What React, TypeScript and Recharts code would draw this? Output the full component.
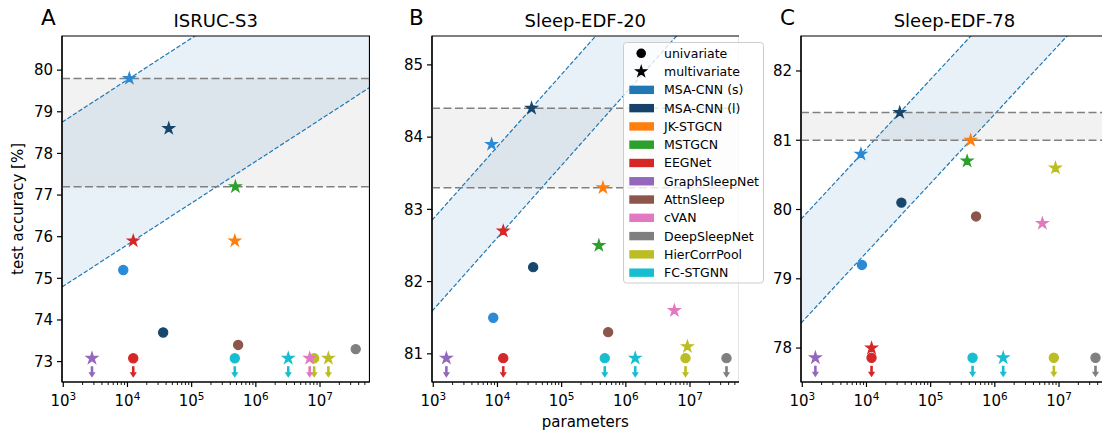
import React from 'react';
import { ComposedChart, Scatter, Area, XAxis, YAxis, ReferenceArea, ReferenceLine } from 'recharts';

const FONT = '"DejaVu Sans", Verdana, sans-serif';

const modelNames = ['MSA-CNN (s)', 'MSA-CNN (l)', 'JK-STGCN', 'MSTGCN', 'EEGNet', 'GraphSleepNet', 'AttnSleep', 'cVAN', 'DeepSleepNet', 'HierCorrPool', 'FC-STGNN'];
const markerColors = ['#2a8ad6', '#17466c', '#ff7f0e', '#2ca02c', '#d62728', '#9467bd', '#8c564b', '#e377c2', '#7f7f7f', '#bcbd22', '#17becf'];
const legendColors = ['#1f77b4', '#154268', '#ff7f0e', '#2ca02c', '#d62728', '#9467bd', '#8c564b', '#e377c2', '#7f7f7f', '#bcbd22', '#17becf'];

// [model, input type, parameters, test accuracy, below axis (arrow)]
type Row = [string, 'uni' | 'multi', number, number, boolean?];

const isrucRows: Row[] = [
  ['MSA-CNN (s)', 'multi', 1.07e4, 79.8],
  ['MSA-CNN (l)', 'multi', 4.4e4, 78.6],
  ['MSTGCN', 'multi', 4.8e5, 77.2],
  ['JK-STGCN', 'multi', 4.7e5, 75.9],
  ['EEGNet', 'multi', 1.23e4, 75.9],
  ['MSA-CNN (s)', 'uni', 8.6e3, 75.2],
  ['MSA-CNN (l)', 'uni', 3.6e4, 73.7],
  ['AttnSleep', 'uni', 5.3e5, 73.4],
  ['DeepSleepNet', 'uni', 3.6e7, 73.3],
  ['GraphSleepNet', 'multi', 2.8e3, 73.08, true],
  ['EEGNet', 'uni', 1.23e4, 73.08, true],
  ['FC-STGNN', 'uni', 4.7e5, 73.08, true],
  ['FC-STGNN', 'multi', 3.2e6, 73.08, true],
  ['HierCorrPool', 'uni', 8.1e6, 73.08, true],
  ['cVAN', 'multi', 6.9e6, 73.08, true],
  ['HierCorrPool', 'multi', 1.35e7, 73.08, true],
];

const edf20Rows: Row[] = [
  ['MSA-CNN (s)', 'multi', 8.1e3, 83.9],
  ['MSA-CNN (l)', 'multi', 3.4e4, 84.4],
  ['JK-STGCN', 'multi', 4.4e5, 83.3],
  ['EEGNet', 'multi', 1.23e4, 82.7],
  ['MSTGCN', 'multi', 3.8e5, 82.5],
  ['MSA-CNN (l)', 'uni', 3.6e4, 82.2],
  ['cVAN', 'multi', 5.7e6, 81.6],
  ['MSA-CNN (s)', 'uni', 8.6e3, 81.5],
  ['AttnSleep', 'uni', 5.3e5, 81.3],
  ['HierCorrPool', 'multi', 9.1e6, 81.1],
  ['GraphSleepNet', 'multi', 1.6e3, 80.94, true],
  ['EEGNet', 'uni', 1.23e4, 80.94, true],
  ['FC-STGNN', 'uni', 4.7e5, 80.94, true],
  ['FC-STGNN', 'multi', 1.4e6, 80.94, true],
  ['HierCorrPool', 'uni', 8.5e6, 80.94, true],
  ['DeepSleepNet', 'uni', 3.7e7, 80.94, true],
];

const edf78Rows: Row[] = [
  ['MSA-CNN (l)', 'multi', 3.3e4, 81.4],
  ['JK-STGCN', 'multi', 4.2e5, 81.0],
  ['MSA-CNN (s)', 'multi', 8.2e3, 80.8],
  ['MSTGCN', 'multi', 3.7e5, 80.7],
  ['HierCorrPool', 'multi', 8.8e6, 80.6],
  ['MSA-CNN (l)', 'uni', 3.5e4, 80.1],
  ['AttnSleep', 'uni', 5.1e5, 79.9],
  ['cVAN', 'multi', 5.5e6, 79.8],
  ['MSA-CNN (s)', 'uni', 8.5e3, 79.2],
  ['EEGNet', 'multi', 1.2e4, 78.0],
  ['GraphSleepNet', 'multi', 1.6e3, 77.86, true],
  ['EEGNet', 'uni', 1.2e4, 77.86, true],
  ['FC-STGNN', 'uni', 4.5e5, 77.86, true],
  ['FC-STGNN', 'multi', 1.35e6, 77.86, true],
  ['HierCorrPool', 'uni', 8.3e6, 77.86, true],
  ['DeepSleepNet', 'uni', 3.7e7, 77.86, true],
];

const panelRows = [isrucRows, edf20Rows, edf78Rows];
const panelTitles = ['ISRUC-S3', 'Sleep-EDF-20', 'Sleep-EDF-78'];
const panelLetters = ['A', 'B', 'C'];
const yDomains = [[72.51, 80.82], [80.61, 85.4], [77.51, 82.505]];
const yTicks = [[73, 74, 75, 76, 77, 78, 79, 80], [81, 82, 83, 84, 85], [78, 79, 80, 81, 82]];
const xDomain = [955, 5.9e7];
const xMajor = [1e3, 1e4, 1e5, 1e6, 1e7];
// band edges: accuracy = offset + log10(parameters)
const bandLow = [71.81, 78.61, 75.38];
const bandHigh = [75.77, 79.87, 76.88];
const refLow = [77.2, 83.3, 81.0];
const refHigh = [79.8, 84.4, 81.4];

const xTicks: number[] = [];
xMajor.concat([1e8]).forEach((m) => {
  for (let k = 1; k < 10; k++) {
    const v = (m / 10) * k;
    if (v >= xDomain[0] && v <= xDomain[1]) xTicks.push(v);
  }
});

const chartLefts = [0, 369.7, 738.7];

function starPoints(cx: number, cy: number, R: number) {
  const r = R * 0.382;
  const pts: string[] = [];
  for (let i = 0; i < 10; i++) {
    const a = -Math.PI / 2 + (i * Math.PI) / 5;
    const rad = i % 2 ? r : R;
    pts.push(`${cx + rad * Math.cos(a)},${cy + rad * Math.sin(a)}`);
  }
  return pts.join(' ');
}

function LogTick(props: any) {
  const { x, y, payload } = props;
  const v = payload.value;
  const exp = Math.round(Math.log10(v));
  const major = Math.abs(Math.log10(v) - exp) < 1e-6;
  return (
    <g>
      <line x1={x} x2={x} y1={y} y2={y + (major ? 5 : 3)} stroke="#000" strokeWidth={major ? 1.2 : 0.9} />
      {major && (
        <text x={x} y={y + 24} textAnchor="middle" fontSize={15} fontFamily={FONT} fill="#000">
          10
          <tspan dy={-6} fontSize={10.5}>{exp}</tspan>
        </text>
      )}
    </g>
  );
}

function Marker(props: any) {
  const { cx, cy, payload } = props;
  if (cx == null || cy == null) return null;
  const color = markerColors[modelNames.indexOf(payload.model)];
  return (
    <g>
      {payload.below && (
        <g>
          <line x1={cx} x2={cx} y1={cy + 8} y2={cy + 15} stroke={color} strokeWidth={2.6} />
          <polygon points={`${cx - 3.6},${cy + 14} ${cx + 3.6},${cy + 14} ${cx},${cy + 19.5}`} fill={color} />
        </g>
      )}
      {payload.kind === 'uni' ? (
        <circle cx={cx} cy={cy} r={4.6} fill={color} stroke={color} strokeWidth={1.2} />
      ) : (
        <polygon points={starPoints(cx, cy, 5.8)} fill={color} stroke={color} strokeWidth={1.3} strokeLinejoin="miter" />
      )}
    </g>
  );
}

function Panel({ idx }: { idx: number }) {
  const [y0, y1] = yDomains[idx];
  const bandData = xDomain.map((x) => ({
    x,
    band: [bandLow[idx] + Math.log10(x), bandHigh[idx] + Math.log10(x)],
  }));
  const pts = panelRows[idx].map(([model, kind, params, acc, below]) => ({
    x: params,
    y: acc,
    model,
    kind,
    below: !!below,
  }));
  return (
    <div style={{ position: 'absolute', left: chartLefts[idx], top: 0 }}>
      <ComposedChart width={369.5} height={432} data={bandData} margin={{ top: 36, right: 0, bottom: 0, left: 0 }}>
        <XAxis
          dataKey="x"
          type="number"
          scale="log"
          domain={xDomain}
          allowDataOverflow
          ticks={xTicks}
          interval={0}
          tick={(p: any) => <LogTick {...p} />}
          tickLine={false}
          tickSize={0}
          tickMargin={0}
          height={50}
          axisLine={{ stroke: '#000', strokeWidth: 1.2 }}
        />
        <YAxis
          dataKey="y"
          type="number"
          domain={[y0, y1]}
          allowDataOverflow
          ticks={yTicks[idx]}
          interval={0}
          width={62}
          tickSize={5}
          tickMargin={4}
          tick={{ fill: '#000', fontSize: 15, fontFamily: FONT }}
          tickLine={{ stroke: '#000', strokeWidth: 1.2 }}
          axisLine={{ stroke: '#000', strokeWidth: 1.2 }}
        />
        <ReferenceArea y1={refLow[idx]} y2={refHigh[idx]} fill="#808080" fillOpacity={0.1} stroke="none" />
        <Area
          dataKey="band"
          type="linear"
          fill="#1f77b4"
          fillOpacity={0.1}
          stroke="#1f77b4"
          strokeWidth={1.2}
          strokeDasharray="4.5 2"
          dot={false}
          activeDot={false}
          isAnimationActive={false}
        />
        <ReferenceLine y={refLow[idx]} stroke="#808080" strokeWidth={1.5} strokeDasharray="8 3.5" />
        <ReferenceLine y={refHigh[idx]} stroke="#808080" strokeWidth={1.5} strokeDasharray="8 3.5" />
        <Scatter data={pts} shape={(p: any) => <Marker {...p} />} isAnimationActive={false} />
        <ReferenceArea
          x1={xDomain[0]}
          x2={xDomain[1]}
          y1={y0}
          y2={y1}
          fill="none"
          stroke="#000"
          strokeWidth={1.2}
          ifOverflow="visible"
        />
      </ComposedChart>
    </div>
  );
}

const legendItems = [
  { label: 'univariate', glyph: 'circle' },
  { label: 'multivariate', glyph: 'star' },
  ...modelNames.map((m, i) => ({ label: m, glyph: 'patch', color: legendColors[i] })),
];

function LegendBox() {
  return (
    <svg width={142} height={243} style={{ position: 'absolute', left: 623, top: 42 }}>
      <rect x={0.5} y={0.5} width={140} height={240.5} rx={3} fill="#fff" fillOpacity={0.8} stroke="#cccccc" />
      {legendItems.map((it, i) => {
        const cy = 11.3 + i * 18.28;
        return (
          <g key={it.label}>
            {it.glyph === 'circle' && <circle cx={18.2} cy={cy} r={4.8} fill="#000" />}
            {it.glyph === 'star' && (
              <polygon points={starPoints(18.2, cy, 5.6)} fill="#000" stroke="#000" strokeWidth={1.2} />
            )}
            {it.glyph === 'patch' && <rect x={6.3} y={cy - 4.2} width={24.7} height={8.4} fill={(it as any).color} />}
            <text x={41} y={cy + 4.5} fontSize={12.5} fontFamily={FONT} fill="#000">
              {it.label}
            </text>
          </g>
        );
      })}
    </svg>
  );
}

const letterX = [41, 409, 780];
const titleX = [215.7, 585.3, 954.4];

export default function App() {
  return (
    <div style={{ position: 'relative', width: 1102, height: 432, overflow: 'hidden', background: '#fff' }}>
      <style>{'body{margin:0}'}</style>
      {[0, 1, 2].map((i) => (
        <Panel key={i} idx={i} />
      ))}
      <svg width={1102} height={432} style={{ position: 'absolute', left: 0, top: 0, pointerEvents: 'none' }}>
        {[0, 1, 2].map((i) => (
          <g key={i}>
            <text x={letterX[i]} y={25} fontSize={21.5} fontFamily={FONT} fill="#000">
              {panelLetters[i]}
            </text>
            <text x={titleX[i]} y={26.5} fontSize={18} textAnchor="middle" fontFamily={FONT} fill="#000">
              {panelTitles[i]}
            </text>
          </g>
        ))}
        <text
          x={0}
          y={0}
          transform="translate(23,209) rotate(-90)"
          textAnchor="middle"
          fontSize={15}
          fontFamily={FONT}
          fill="#000"
        >
          test accuracy [%]
        </text>
        <text x={585.3} y={427} textAnchor="middle" fontSize={15} fontFamily={FONT} fill="#000">
          parameters
        </text>
      </svg>
      <LegendBox />
    </div>
  );
}
